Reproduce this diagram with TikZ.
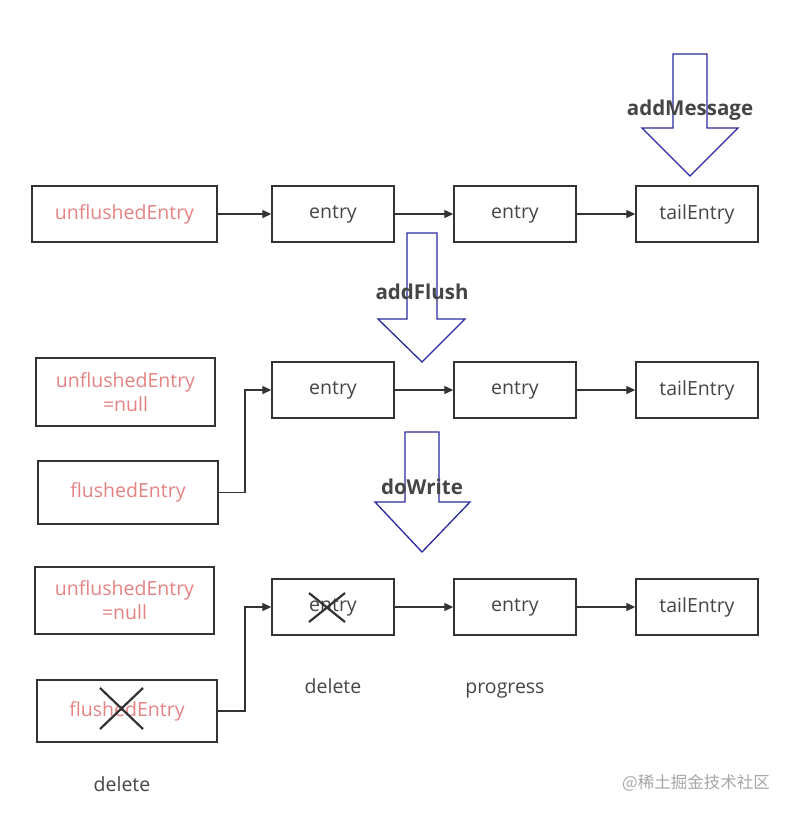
\documentclass[tikz,border=0pt]{standalone}
\usepackage{fontspec}
\setmainfont{Open Sans}
\newfontfamily\cjk{Noto Sans CJK SC}
\usetikzlibrary{arrows.meta}
\definecolor{boxline}{HTML}{333333}
\definecolor{txt}{HTML}{454545}
\definecolor{redtxt}{HTML}{E48282}
\definecolor{bigarrow}{HTML}{2A2AA0}
\begin{document}
\begin{tikzpicture}[x=1pt,y=-1pt,
  box/.style={draw=boxline,line width=1.4pt,minimum height=56pt,inner sep=0pt,align=center,text=txt,font=\fontsize{19.5}{24}\selectfont},
  entrybox/.style={box,minimum width=122pt},
  redbox/.style={box,text=redtxt},
  conn/.style={draw=boxline,line width=1.3pt,-{Triangle[length=9pt,width=8pt]}},
  fat/.style={draw=bigarrow,line width=1.3pt,fill=white},
  biglabel/.style={text=txt,font=\bfseries\fontsize{20.5}{24}\selectfont},
  plain/.style={text=txt,font=\fontsize{19.5}{24}\selectfont,anchor=base},
  cross/.style={draw=boxline,line width=2.2pt}]
\useasboundingbox (0,0) rectangle (792,815);
% Row 1
\node[redbox,minimum width=185pt] (u1) at (124.5,214) {unflushedEntry};
\node[entrybox] (e11) at (333,214) {entry};
\node[entrybox] (e12) at (515,214) {entry};
\node[entrybox] (t1) at (697,214) {tailEntry};
\draw[conn] (u1) -- (e11);
\draw[conn] (e11) -- (e12);
\draw[conn] (e12) -- (t1);
% Row 2
\node[redbox,minimum width=179pt,minimum height=68pt] (u2) at (125.5,392) {unflushedEntry\\=null};
\node[redbox,minimum width=180pt,minimum height=63pt] (f2) at (128,492.5) {flushedEntry};
\node[entrybox] (e21) at (333,390) {entry};
\node[entrybox] (e22) at (515,390) {entry};
\node[entrybox] (t2) at (697,390) {tailEntry};
\draw[conn] (f2.east) -| (245,390) -- (e21.west);
\draw[conn] (e21) -- (e22);
\draw[conn] (e22) -- (t2);
% Row 3
\node[redbox,minimum width=179pt,minimum height=67pt] (u3) at (124.5,600.5) {unflushedEntry\\=null};
\node[redbox,minimum width=180pt,minimum height=62pt] (f3) at (127,711) {flushedEntry};
\node[entrybox] (e31) at (333,607) {entry};
\node[entrybox] (e32) at (515,607) {entry};
\node[entrybox] (t3) at (697,607) {tailEntry};
\draw[conn] (f3.east) -| (245,607) -- (e31.west);
\draw[conn] (e31) -- (e32);
\draw[conn] (e32) -- (t3);
% crosses
\draw[cross] (100,688) -- (143,729) (143,688) -- (100,729);
\draw[cross] (309,593) -- (345,622) (345,593) -- (309,622);
% labels under row 3
\node[plain] (d1) at (333,693) {delete};
\node[plain] (pg) at (505,693) {progress};
\node[plain] (d2) at (122,791) {delete};
% big arrows
\draw[fat] (673,54) -- (707,54) -- (707,128) -- (738,128) -- (690,176) -- (642,128) -- (673,128) -- cycle;
\node[biglabel] (l1) at (690,110) {addMessage};
\draw[fat] (407,233) -- (437,233) -- (437,319) -- (465,319) -- (422,362) -- (378,319) -- (407,319) -- cycle;
\node[biglabel] (l2) at (422,292) {addFlush};
\draw[fat] (405,432) -- (439,432) -- (439,502) -- (470,502) -- (422,552) -- (375,502) -- (405,502) -- cycle;
\node[biglabel] (l3) at (422,487) {doWrite};
% watermark
\node[text=black!35,font=\cjk\fontsize{16.5}{20}\selectfont] (wm) at (696,783) {@稀土掘金技术社区};
\end{tikzpicture}
\end{document}
